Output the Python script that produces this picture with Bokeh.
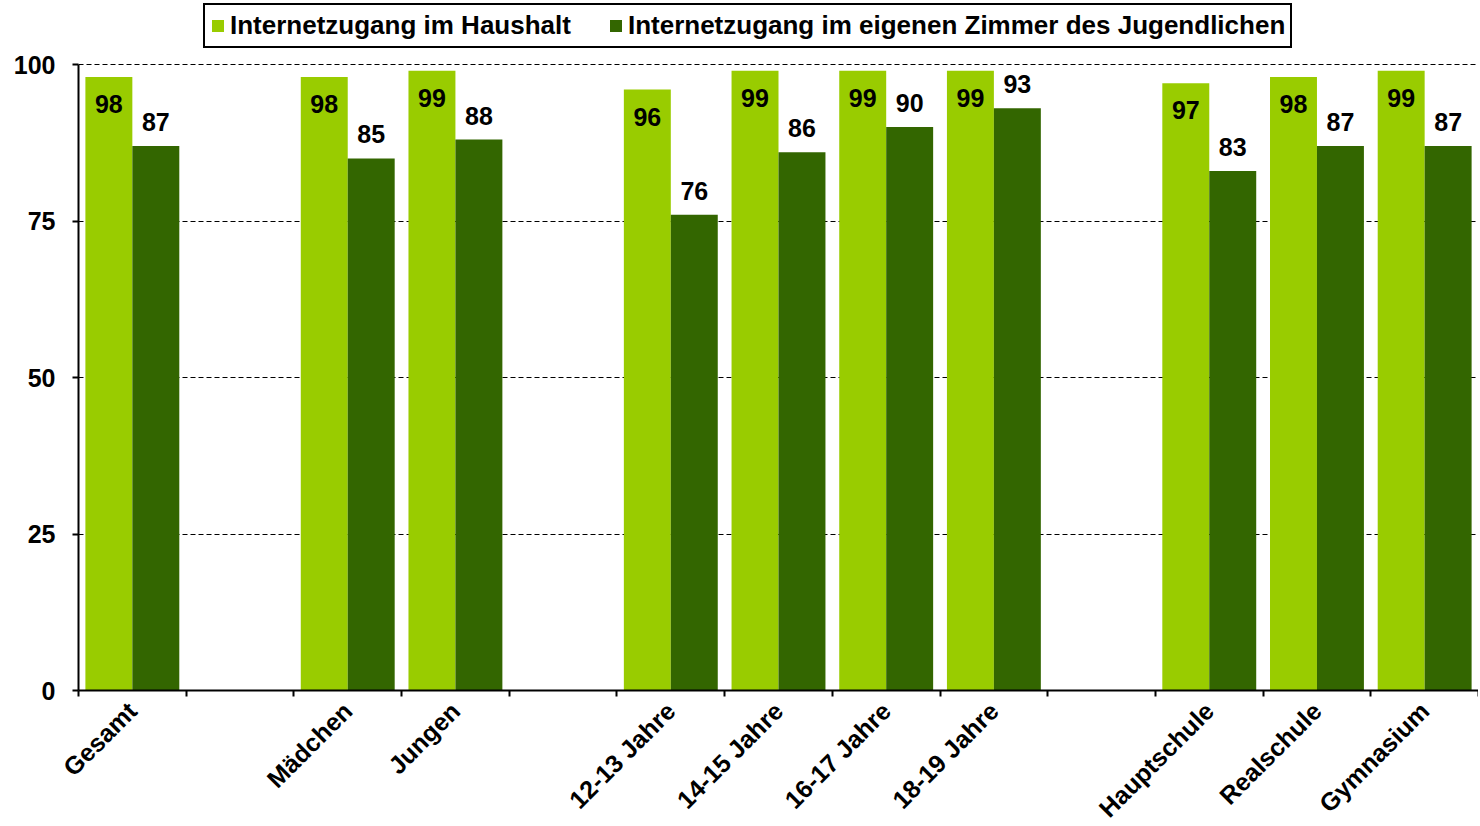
from bokeh.plotting import figure
from bokeh.models import ColumnDataSource, FixedTicker, Legend, LegendItem, Range1d
from bokeh.embed import file_html
from bokeh.resources import INLINE
from bokeh.core.properties import value

# ---------------- data ----------------
groups = [
    ["Gesamt"],
    ["Mädchen", "Jungen"],
    ["12-13 Jahre", "14-15 Jahre", "16-17 Jahre", "18-19 Jahre"],
    ["Hauptschule", "Realschule", "Gymnasium"],
]
categories = [c for g in groups for c in g]
haushalt = [98, 98, 99, 96, 99, 99, 99, 97, 98, 99]
zimmer = [87, 85, 88, 76, 86, 90, 93, 83, 87, 87]
series_names = ["Internetzugang im Haushalt",
                "Internetzugang im eigenen Zimmer des Jugendlichen"]
y_ticks = [0, 25, 50, 75, 100]

LIGHT = "#99CC00"
DARK = "#336600"
FONT = "Liberation Sans"

# ---------------- layout ----------------
PLOT_H = 626          # pixel height of the 0..100 value area
HEADROOM = 62         # extra room above 100 for the legend
Y_MAX = 100 * (PLOT_H + HEADROOM) / PLOT_H

# slot layout: one empty slot between groups
slots = []
s = 0
for gi, g in enumerate(groups):
    if gi > 0:
        s += 1
    for c in g:
        slots.append(s)
        s += 1
n_slots = s
centers = [x + 0.5 for x in slots]
bw = 0.436
x_light = [c - bw / 2 for c in centers]
x_dark = [c + bw / 2 for c in centers]

src = ColumnDataSource(dict(
    xl=x_light, xd=x_dark, hh=haushalt, zz=zimmer,
    th=[str(v) for v in haushalt], tz=[str(v) for v in zimmer],
))

p = figure(frame_width=1400, frame_height=PLOT_H + HEADROOM,
           output_backend="svg", toolbar_location=None,
           x_range=Range1d(0, n_slots), y_range=Range1d(0, Y_MAX),
           min_border_left=78, min_border_right=0,
           min_border_top=2, min_border_bottom=40)
p.outline_line_color = None
p.background_fill_color = "white"

r1 = p.vbar(x="xl", top="hh", width=bw, bottom=0, source=src,
            fill_color=LIGHT, line_color=None)
r2 = p.vbar(x="xd", top="zz", width=bw, bottom=0, source=src,
            fill_color=DARK, line_color=None)

p.text(x="xl", y="hh", text="th", source=src, y_offset=27,
       text_font=value(FONT), text_font_style="bold", text_font_size="25px",
       text_align="center", text_baseline="middle", text_color="black")
p.text(x="xd", y="zz", text="tz", source=src, y_offset=-24,
       text_font=value(FONT), text_font_style="bold", text_font_size="25px",
       text_align="center", text_baseline="middle", text_color="black")

# grid
p.xgrid.grid_line_color = None
p.ygrid.ticker = FixedTicker(ticks=y_ticks)
p.ygrid.grid_line_color = "black"
p.ygrid.grid_line_dash = "5 3"
p.ygrid.grid_line_width = 1

# y axis
ya = p.yaxis[0]
ya.ticker = FixedTicker(ticks=y_ticks)
ya.bounds = (0, 100)
ya.axis_line_color = "black"
ya.axis_line_width = 2
ya.major_tick_out = 6
ya.major_tick_in = 0
ya.major_tick_line_width = 2
ya.minor_tick_line_color = None
ya.major_label_standoff = 17
ya.major_label_text_font = FONT
ya.major_label_text_font_style = "bold"
ya.major_label_text_font_size = "25px"
ya.major_label_text_color = "black"

# x axis
xa = p.xaxis[0]
xa.ticker = FixedTicker(ticks=centers, minor_ticks=list(range(n_slots + 1)))
xa.major_label_overrides = {c: name for c, name in zip(centers, categories)}
xa.axis_line_color = "black"
xa.axis_line_width = 2
xa.major_tick_line_color = None
xa.major_tick_out = 6
xa.major_tick_in = 0
xa.minor_tick_out = 6
xa.minor_tick_in = 0
xa.minor_tick_line_width = 2
xa.minor_tick_line_color = "black"
xa.major_label_orientation = 0.785398
xa.major_label_standoff = 10
xa.major_label_text_font = FONT
xa.major_label_text_font_style = "bold"
xa.major_label_text_font_size = "25px"
xa.major_label_text_color = "black"

legend = Legend(items=[LegendItem(label=series_names[0], renderers=[r1]),
                       LegendItem(label=series_names[1], renderers=[r2])],
                orientation="horizontal",
                location=(125, PLOT_H + 16))
legend.label_text_font = FONT
legend.label_text_font_style = "bold"
legend.label_text_font_size = "26px"
legend.label_text_color = "black"
legend.glyph_width = 15
legend.glyph_height = 15
legend.label_standoff = 5
legend.spacing = 37
legend.padding = 5
legend.margin = 0
legend.border_line_color = "black"
legend.border_line_alpha = 1
legend.border_line_width = 2
legend.background_fill_color = "white"
legend.background_fill_alpha = 1
p.add_layout(legend)

open("out.html", "w").write(file_html(p, INLINE))
